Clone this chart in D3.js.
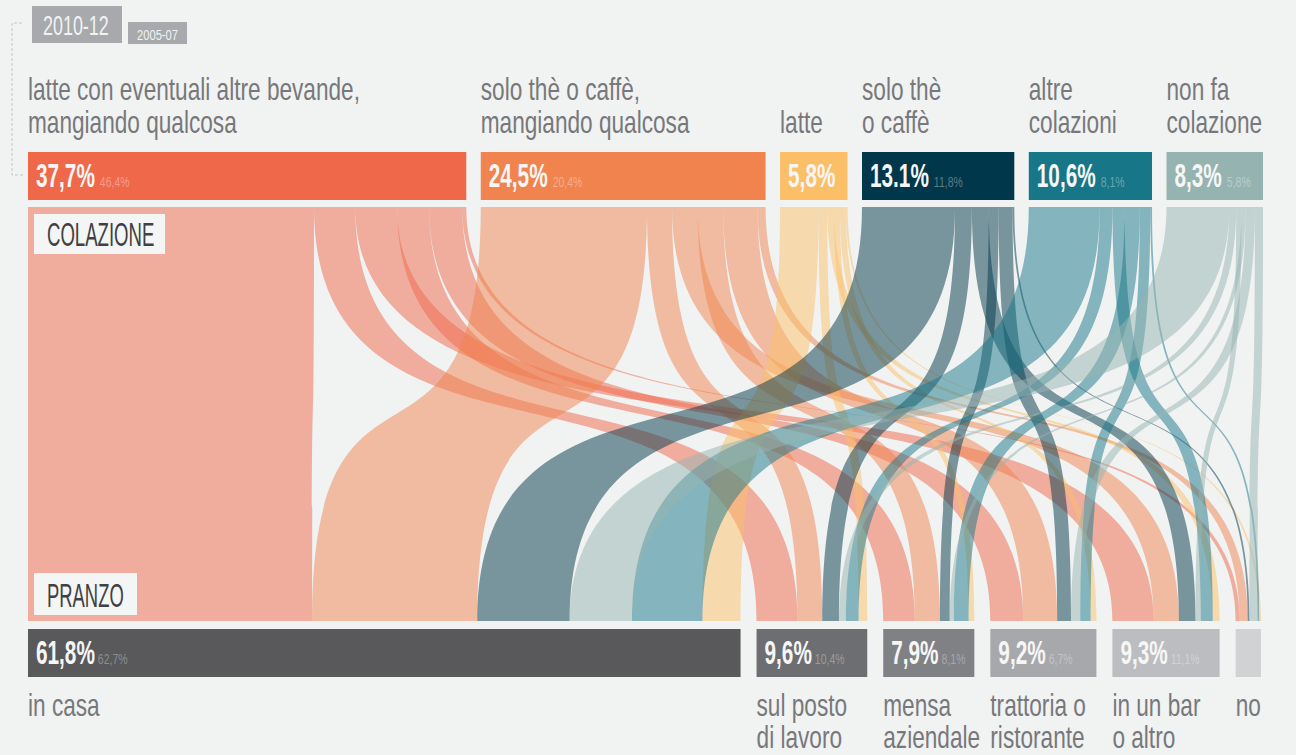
<!DOCTYPE html>
<html>
<head>
<meta charset="utf-8">
<script src="https://cdn.jsdelivr.net/npm/d3@7"></script>
<style>
  html,body{margin:0;padding:0;background:#f1f2f2;}
  svg{display:block;}
</style>
</head>
<body>
<svg id="chart" width="1296" height="755"></svg>
<script>
// ---------------- DATA ----------------
const periodLabels = ["2010-12", "2005-07"];

const breakfastLabels = [
  ["latte con eventuali altre bevande,", "mangiando qualcosa"],
  ["solo thè o caffè,", "mangiando qualcosa"],
  ["latte"],
  ["solo thè", "o caffè"],
  ["altre", "colazioni"],
  ["non fa", "colazione"]
];
const breakfast2010 = [37.7, 24.5, 5.8, 13.1, 10.6, 8.3];
const breakfast2010Text = ["37,7%", "24,5%", "5,8%", "13.1%", "10,6%", "8,3%"];
const breakfast2005Text = ["46,4%", "20,4%", "", "11,8%", "8,1%", "5,8%"];

const lunchLabels = [
  ["in casa"],
  ["sul posto", "di lavoro"],
  ["mensa", "aziendale"],
  ["trattoria o", "ristorante"],
  ["in un bar", "o altro"],
  ["no"]
];
const lunch2010 = [61.8, 9.6, 7.9, 9.2, 9.3, 2.2];
const lunch2010Text = ["61,8%", "9,6%", "7,9%", "9,2%", "9,3%", ""];
const lunch2005Text = ["62,7%", "10,4%", "8,1%", "6,7%", "11,1%", ""];

// flows: breakfast -> lunch (in casa, posto di lavoro, mensa, trattoria, bar, no)
const flowLatteMangiando = [24.6, 3.55, 2.75, 2.85, 3.6, 0.35];
const flowTheMangiando   = [14.3, 2.15, 2.2, 2.95, 2.2, 0.7];
const flowLatte          = [3.3, 0.75, 0.5, 0.5, 0.6, 0.15];
const flowThe            = [8.0, 1.45, 0.85, 1.2, 1.45, 0.15];
const flowAltre          = [6.1, 1.1, 1.3, 0.9, 1.05, 0.15];
const flowNonFa          = [5.4, 0.6, 0.35, 0.8, 0.45, 0.7];
const flows = [flowLatteMangiando, flowTheMangiando, flowLatte, flowThe, flowAltre, flowNonFa];

// order of lunch bands leaving each breakfast bar, and of breakfast bands arriving at each lunch bar
const topOrder = [0, 1, 4, 2, 3, 5];
const bottomOrder = [0, 1, 3, 5, 4, 2];

const breakfastColors = ["#f0684a", "#f0834e", "#fbbf68", "#00374a", "#177688", "#95b4b1"];
const lunchColors = ["#59595b", "#6d6e71", "#808184", "#a7a8ab", "#bcbdc0", "#d1d2d4"];

// ---------------- LAYOUT ----------------
const svg = d3.select("#chart");
const FONT = "'Liberation Sans Narrow','Liberation Sans',sans-serif";
const left = 28;
const topRight = 1263, botRight = 1261;
const topPad = 14.5, botPad = 16;
const bandTop = 207, bandBot = 621;
const topBoxY = 152, botBoxY = 629, boxH = 48;

function layoutNodes(values, right, pad) {
  const x = d3.scaleLinear().domain([0, d3.sum(values)])
    .range([0, right - left - pad * (values.length - 1)]);
  let cur = left;
  return values.map(v => { const n = {x0: cur, x1: cur + x(v)}; cur = n.x1 + pad; return n; });
}
const topNodes = layoutNodes(breakfast2010, topRight, topPad);
const botNodes = layoutNodes(lunch2010, botRight, botPad);

// band segments
const links = [];
flows.forEach((row, i) => row.forEach((v, j) => links.push({s: i, t: j, v})));
topNodes.forEach((n, i) => {
  const rowSum = d3.sum(flows[i]);
  const w = d3.scaleLinear().domain([0, rowSum]).range([0, n.x1 - n.x0]);
  let cur = n.x0;
  topOrder.forEach(j => {
    const l = links.find(k => k.s === i && k.t === j);
    l.a0 = cur; l.a1 = cur + w(l.v); cur = l.a1;
  });
});
botNodes.forEach((n, j) => {
  const colSum = d3.sum(flows, r => r[j]);
  const w = d3.scaleLinear().domain([0, colSum]).range([0, n.x1 - n.x0]);
  let cur = n.x0;
  bottomOrder.forEach(i => {
    const l = links.find(k => k.s === i && k.t === j);
    l.b0 = cur; l.b1 = cur + w(l.v); cur = l.b1;
  });
});

function bandPath(l) {
  const h = bandBot - bandTop, c = 0.75;
  const p = d3.path();
  p.moveTo(l.a0, bandTop);
  p.bezierCurveTo(l.a0, bandTop + c * h, l.b0, bandBot - c * h, l.b0, bandBot);
  p.lineTo(l.b1, bandBot);
  p.bezierCurveTo(l.b1, bandBot - c * h, l.a1, bandTop + c * h, l.a1, bandTop);
  p.closePath();
  return p.toString();
}

// ---------------- TEXT HELPER ----------------
function txt(g, x, y, s, o) {
  return g.append("text")
    .attr("transform", `translate(${x},${y}) scale(${o.sx || 1},1)`)
    .attr("font-family", FONT)
    .attr("font-size", o.size)
    .attr("font-weight", o.weight || "normal")
    .attr("fill", o.fill)
    .attr("fill-opacity", o.op == null ? 1 : o.op)
    .text(s);
}

// ---------------- BANDS ----------------
svg.append("g").selectAll("path")
  .data(links)
  .join("path")
  .attr("d", bandPath)
  .attr("fill", d => breakfastColors[d.s])
  .attr("fill-opacity", 0.5);

// ---------------- HEADER ----------------
const hdr = svg.append("g");
hdr.append("path")
  .attr("d", "M22,23 H12 V175 H24")
  .attr("fill", "none").attr("stroke", "#c4c5c7").attr("stroke-width", 1)
  .attr("stroke-dasharray", "3,2");
hdr.append("rect").attr("x", 32).attr("y", 6).attr("width", 90).attr("height", 37).attr("fill", "#a7a9ac");
txt(hdr, 43, 35, periodLabels[0], {size: 28, fill: "#f1f2f2", sx: 0.64});
hdr.append("rect").attr("x", 128).attr("y", 22).attr("width", 59).attr("height", 22).attr("fill", "#a7a9ac");
txt(hdr, 137, 40, periodLabels[1], {size: 14, fill: "#f1f2f2", sx: 0.8});

// ---------------- TOP NODES ----------------
const SX_LABEL = 0.73, SX_BIG = 0.62, SX_SMALL = 0.75;
const tg = svg.append("g");
topNodes.forEach((n, i) => {
  tg.append("rect").attr("x", n.x0).attr("y", topBoxY).attr("width", n.x1 - n.x0).attr("height", boxH)
    .attr("fill", breakfastColors[i]);
  const big = txt(tg, n.x0 + 8, topBoxY + 35, breakfast2010Text[i], {size: 33.5, weight: "bold", fill: "#f6f6f6", sx: SX_BIG});
  const bw = big.node().getComputedTextLength() * SX_BIG;
  if (breakfast2005Text[i]) {
    txt(tg, n.x0 + 8 + bw + 5, topBoxY + 35, breakfast2005Text[i], {size: 14, fill: "#ffffff", op: 0.35, sx: SX_SMALL});
  }
  const lines = breakfastLabels[i];
  lines.forEach((s, k) => {
    const yy = 133 - (lines.length - 1 - k) * 33;
    txt(tg, n.x0, yy, s, {size: 31, fill: "#77787b", sx: SX_LABEL});
  });
});

// ---------------- BOTTOM NODES ----------------
const bg = svg.append("g");
botNodes.forEach((n, j) => {
  bg.append("rect").attr("x", n.x0).attr("y", botBoxY).attr("width", n.x1 - n.x0).attr("height", boxH)
    .attr("fill", lunchColors[j]);
  if (lunch2010Text[j]) {
    const big = txt(bg, n.x0 + 8, botBoxY + 35, lunch2010Text[j], {size: 33.5, weight: "bold", fill: "#f6f6f6", sx: SX_BIG});
    const bw = big.node().getComputedTextLength() * SX_BIG;
    txt(bg, n.x0 + 8 + bw + 3, botBoxY + 35, lunch2005Text[j], {size: 14, fill: "#ffffff", op: 0.32, sx: SX_SMALL});
  }
  lunchLabels[j].forEach((s, k) => {
    txt(bg, n.x0, 716 + k * 32, s, {size: 31, fill: "#77787b", sx: SX_LABEL});
  });
});

// ---------------- ROW TITLES ----------------
const rg = svg.append("g");
rg.append("rect").attr("x", 34).attr("y", 214).attr("width", 131).attr("height", 40).attr("fill", "#f4f5f5");
txt(rg, 47, 246, "COLAZIONE", {size: 33.5, fill: "#414042", sx: 0.555});
rg.append("rect").attr("x", 34).attr("y", 573).attr("width", 103).attr("height", 42).attr("fill", "#f4f5f5");
txt(rg, 47, 607, "PRANZO", {size: 33.5, fill: "#414042", sx: 0.55});
</script>
</body>
</html>
